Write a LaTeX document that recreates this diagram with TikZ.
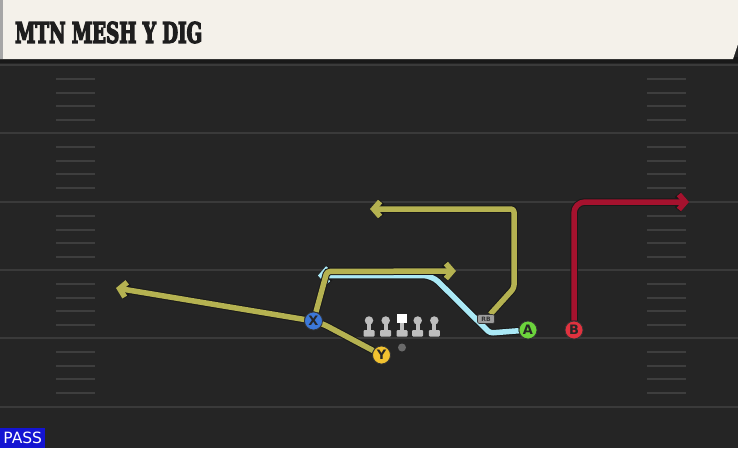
\documentclass[tikz,border=0pt]{standalone}
\usepackage{graphicx}
\usepackage{fontspec}
\setmainfont{DejaVu Sans}
\newfontfamily\titlefont[FakeBold=5]{DejaVu Serif Condensed}
\usetikzlibrary{arrows.meta}
\definecolor{fieldbg}{HTML}{252525}
\definecolor{yardc}{HTML}{3A3A3A}
\definecolor{hashc}{HTML}{3E3E3E}
\definecolor{headerc}{HTML}{F4F1EA}
\definecolor{titlec}{HTML}{1E1E1E}
\definecolor{routey}{HTML}{B5B251}
\definecolor{routec}{HTML}{AAE9F6}
\definecolor{router}{HTML}{A5122E}
\definecolor{pblue}{HTML}{3C78D8}
\definecolor{pyellow}{HTML}{F2C230}
\definecolor{pgreen}{HTML}{6CD43C}
\definecolor{pred}{HTML}{E0323F}
\definecolor{lgray}{HTML}{BEBEBE}
\definecolor{qbgray}{HTML}{6A6A6A}
\definecolor{rbgray}{HTML}{9C9C9C}
\definecolor{passblue}{HTML}{1414D2}
\pgfdeclarelayer{bg}
\pgfdeclarelayer{routes}
\pgfsetlayers{bg,routes,main}
\tikzset{
  yard/.style={draw=yardc, line width=2.5pt},
  hash/.style={draw=hashc, line width=2pt},
  route/.style={line width=5.5pt, line join=round, rounded corners=3pt,
    preaction={draw=black!90, line width=7.5pt}},
  tip/.style={-{Straight Barb[length=6.5pt,width=15pt]}},
  player/.style={circle, draw=black!80, line width=0.8pt, minimum size=18pt,
    inner sep=0pt, font=\bfseries\fontsize{13}{13}\selectfont, text=black!85},
  lhead/.style={circle, fill=lgray, minimum size=8.5pt, inner sep=0pt},
  lcenter/.style={rectangle, fill=white, minimum width=9.5pt, minimum height=9pt, inner sep=0pt},
  rbbox/.style={rectangle, rounded corners=2pt, fill=rbgray, draw=black!80, line width=0.6pt,
    minimum width=17pt, minimum height=9pt, inner sep=0pt,
    font=\bfseries\fontsize{6}{6}\selectfont, text=black!80},
}
\begin{document}
\begin{tikzpicture}[x=1pt,y=-1pt]
\useasboundingbox (0,0) rectangle (738,448);
\begin{pgfonlayer}{bg}
  \fill[fieldbg] (0,0) rectangle (738,448);
  % header
  \fill[black!90] (0,57) rectangle (738,63);
  \fill[headerc] (0,0) -- (738,0) -- (738,44) -- (733,59) -- (0,59) -- cycle;
  \fill[black!35] (0,0) rectangle (3,59);
  % yard lines
  \foreach \yy in {65,133,202,270,338,407} \draw[yard] (0,\yy) -- (738,\yy);
  % hash marks
  \foreach \s in {65,133,202,270,338} {
    \foreach \o in {14,27.5,41,55} {
      \draw[hash] (56,\s+\o) -- (95,\s+\o);
      \draw[hash] (647,\s+\o) -- (686,\s+\o);
    }
  }
\end{pgfonlayer}

\node[anchor=west, inner sep=0pt, text=titlec] (title) at (15,32.5)
  {\resizebox{187pt}{21pt}{\titlefont\bfseries MTN MESH Y DIG}};

% players
\node[player, fill=pblue] (X) at (313.5,321) {X};
\node[player, fill=pyellow] (Y) at (381.5,355) {Y};
\node[player, fill=pgreen] (A) at (528,330) {A};
\node[player, fill=pred] (B) at (574,330) {B};
\node[rbbox] (RB) at (486,319) {RB};
\node[circle, fill=qbgray, minimum size=8pt, inner sep=0pt] (QB) at (402,347.5) {};

% linemen
\foreach \n/\x in {L1/369,L2/385.7,L4/417.7,L5/434.3} {
  \node[lhead] (\n) at (\x,320.5) {};
  \fill[lgray] (\x-2,322) rectangle (\x+2,330.5);
  \fill[lgray, rounded corners=1pt] (\x-5.5,330) rectangle (\x+5.5,336.5);
}
\node[lcenter] (C) at (402,318.5) {};
\fill[lgray] (400,323) rectangle (404,330.5);
\fill[lgray, rounded corners=1pt] (396.5,330) rectangle (407.5,336.5);

% routes
\begin{pgfonlayer}{routes}
  \coordinate (xl) at (116,288);
  \coordinate (xc) at (327,271.5);
  \coordinate (xr) at (456,271);
  \coordinate (yc) at (325,325);
  \coordinate (rb1) at (514,288);
  \coordinate (rb2) at (514,209);
  \coordinate (rb3) at (370,209);
  \coordinate (a1) at (490,333);
  \coordinate (a2) at (432,275.5);
  \coordinate (a3) at (318,275.5);
  \coordinate (b1) at (574,202);
  \coordinate (b2) at (689,202);

  \draw[route, routec, tip] (A) -- (a1) [rounded corners=9pt] -- (a2) -- (a3);
  \draw[route, routey, tip] (X) -- (xl);
  \draw[route, routey] (Y) -- (yc) -- (X);
  \draw[route, routey, tip] (X) -- (xc) -- (xr);
  \draw[route, routey, tip] (RB) -- (rb1) -- (rb2) -- (rb3);
  \draw[route, router, tip, rounded corners=11pt] (B) -- (b1) -- (b2);
\end{pgfonlayer}

% play type
\node[anchor=south west, fill=passblue, text=white, inner sep=0pt,
  minimum width=45pt, minimum height=20pt, font=\fontsize{15.5}{15.5}\selectfont] (pass) at (0,448) {PASS};
\end{tikzpicture}
\end{document}
